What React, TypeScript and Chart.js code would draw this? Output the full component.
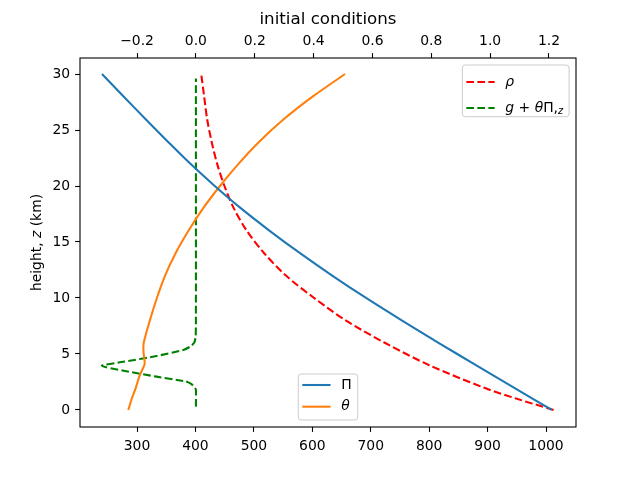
import React, { useEffect, useRef } from 'react';
import { Chart, registerables } from 'chart.js';

Chart.register(...registerables);

// profiles, heights in km
const piHeights = [0, 2, 4, 6, 8, 10, 12, 14, 16, 18, 20, 22, 24, 26, 28, 30];
const piValues = [1010, 945, 880, 816, 753, 692, 634, 579, 527, 478, 433, 391, 352, 314, 277, 240];

const thetaHeights = [0, 1, 2, 3, 3.6, 4.1, 4.6, 5.2, 6, 8, 10, 12, 14, 16, 18, 20, 22, 24, 26, 28, 30];
const thetaValues = [285, 291, 298, 304, 309, 313, 312.5, 311, 311.5, 322, 334, 348, 366, 388, 413, 442, 474, 510, 552, 601, 656];

const rhoHeights = [0, 1, 2, 4, 6, 8, 10, 12, 14, 16, 18, 20, 22, 24, 26, 28, 30];
const rhoValues = [1.216, 1.091, 0.978, 0.793, 0.642, 0.509, 0.402, 0.306, 0.232, 0.173, 0.129, 0.097, 0.072, 0.053, 0.038, 0.028, 0.018];

const buoyHeights = [0.3, 1.8, 2.0, 2.3, 2.55, 2.98, 3.5, 3.95, 4.3, 4.82, 5.36, 5.65, 6.0, 6.5, 8, 29.6];
const buoyValues = [0, 0, -0.004, -0.015, -0.035, -0.134, -0.245, -0.32, -0.247, -0.134, -0.043, -0.02, -0.006, -0.001, 0, 0];

const bottomTicks = [300, 400, 500, 600, 700, 800, 900, 1000];
const topTicks = [-0.2, 0, 0.2, 0.4, 0.6, 0.8, 1.0, 1.2];
const heightTicks = [0, 5, 10, 15, 20, 25, 30];

const FONT = 'DejaVu Sans';
const FS = 13.9;
const DASH = [7.7, 3.3];

const toPoints = (zs: number[], vs: number[]) => zs.map((z, i) => ({ x: vs[i], y: z }));

type Piece = { t: string; italic?: boolean; sub?: boolean };

const drawPieces = (ctx: CanvasRenderingContext2D, pieces: Piece[], x: number, y: number) => {
  let cx = x;
  for (const p of pieces) {
    const size = p.sub ? FS * 0.7 : FS;
    ctx.font = `${p.italic ? 'italic ' : ''}${size}px "${FONT}"`;
    ctx.fillText(p.t, cx, p.sub ? y + 3.5 : y);
    cx += ctx.measureText(p.t).width;
  }
};

const piecesWidth = (ctx: CanvasRenderingContext2D, pieces: Piece[]) => {
  let w = 0;
  for (const p of pieces) {
    const size = p.sub ? FS * 0.7 : FS;
    ctx.font = `${p.italic ? 'italic ' : ''}${size}px "${FONT}"`;
    w += ctx.measureText(p.t).width;
  }
  return w;
};

type LegendRow = { color: string; dashed: boolean; label: Piece[] };

const PAD = 4;
const HANDLE = 28.3;
const GAP = 10.7;

const legendWidth = (ctx: CanvasRenderingContext2D, rows: LegendRow[]) =>
  PAD + HANDLE + GAP + Math.max(...rows.map((r) => piecesWidth(ctx, r.label))) + 6;

const drawLegend = (
  ctx: CanvasRenderingContext2D,
  rows: LegendRow[],
  left: number,
  top: number,
  rowOffsets: number[],
  height: number
) => {
  const width = legendWidth(ctx, rows);
  ctx.save();
  ctx.beginPath();
  ctx.roundRect(left, top, width, height, 3);
  ctx.fillStyle = 'rgba(255,255,255,0.8)';
  ctx.fill();
  ctx.strokeStyle = '#cccccc';
  ctx.lineWidth = 1;
  ctx.stroke();
  rows.forEach((r, i) => {
    const y = top + rowOffsets[i];
    ctx.beginPath();
    ctx.setLineDash(r.dashed ? DASH : []);
    ctx.strokeStyle = r.color;
    ctx.lineWidth = 2.08;
    ctx.moveTo(left + PAD, y);
    ctx.lineTo(left + PAD + HANDLE, y);
    ctx.stroke();
    ctx.setLineDash([]);
    ctx.fillStyle = '#000';
    ctx.textBaseline = 'middle';
    ctx.textAlign = 'left';
    drawPieces(ctx, r.label, left + PAD + HANDLE + GAP, y);
  });
  ctx.restore();
};

const decorations = {
  id: 'decorations',
  afterDraw(chart: Chart) {
    const { ctx, chartArea } = chart;
    const { left, right, top, bottom } = chartArea;
    ctx.save();
    // frame
    ctx.strokeStyle = '#000';
    ctx.lineWidth = 1.1;
    ctx.strokeRect(left, top, right - left, bottom - top);

    // title
    ctx.fillStyle = '#000';
    ctx.textAlign = 'center';
    ctx.textBaseline = 'middle';
    ctx.font = `16.7px "${FONT}"`;
    ctx.fillText('initial conditions', (left + right) / 2, 20);

    // y label with italic z
    ctx.save();
    ctx.translate(37, (top + bottom) / 2);
    ctx.rotate(-Math.PI / 2);
    const yl: Piece[] = [{ t: 'height, ' }, { t: 'z', italic: true }, { t: ' (km)' }];
    const w = piecesWidth(ctx, yl);
    ctx.textAlign = 'left';
    drawPieces(ctx, yl, -w / 2, 0);
    ctx.restore();

    // upper-right legend
    const rowsTop: LegendRow[] = [
      { color: '#ff0000', dashed: true, label: [{ t: 'ρ', italic: true }] },
      {
        color: '#008000',
        dashed: true,
        label: [
          { t: 'g', italic: true },
          { t: ' + ' },
          { t: 'θ', italic: true },
          { t: 'Π' },
          { t: ',' },
          { t: 'z', italic: true, sub: true },
        ],
      },
    ];
    drawLegend(ctx, rowsTop, right - 6.9 - legendWidth(ctx, rowsTop), top + 7, [17, 43], 51.7);

    // lower-centre legend
    const rowsBottom: LegendRow[] = [
      { color: '#1f77b4', dashed: false, label: [{ t: 'Π' }] },
      { color: '#ff7f0e', dashed: false, label: [{ t: 'θ', italic: true }] },
    ];
    const bw = legendWidth(ctx, rowsBottom);
    drawLegend(ctx, rowsBottom, (left + right) / 2 - bw / 2, bottom - 7 - 46, [11, 32.7], 46);
    ctx.restore();
  },
};

const tickGrid = {
  display: true,
  drawOnChartArea: false,
  drawTicks: true,
  tickLength: 4.9,
  tickWidth: 1.1,
  tickColor: '#000',
};

const App: React.FC = () => {
  const canvasRef = useRef<HTMLCanvasElement>(null);

  useEffect(() => {
    if (!canvasRef.current) return;
    Chart.defaults.font.family = FONT;
    Chart.defaults.font.size = FS;
    Chart.defaults.color = '#000';

    const chart = new Chart(canvasRef.current, {
      type: 'line',
      data: {
        datasets: [
          {
            label: 'Π',
            data: toPoints(piHeights, piValues),
            xAxisID: 'x',
            yAxisID: 'y',
            borderColor: '#1f77b4',
            borderWidth: 2.08,
            pointRadius: 0,
            tension: 0.3,
          },
          {
            label: 'θ',
            data: toPoints(thetaHeights, thetaValues),
            xAxisID: 'x',
            yAxisID: 'y',
            borderColor: '#ff7f0e',
            borderWidth: 2.08,
            pointRadius: 0,
            tension: 0.3,
          },
          {
            label: 'ρ',
            data: toPoints(rhoHeights, rhoValues),
            xAxisID: 'x2',
            yAxisID: 'y',
            borderColor: '#ff0000',
            borderWidth: 2.08,
            borderDash: DASH,
            pointRadius: 0,
            tension: 0.3,
          },
          {
            label: 'g+θΠ,z',
            data: toPoints(buoyHeights, buoyValues),
            xAxisID: 'x2',
            yAxisID: 'y',
            borderColor: '#008000',
            borderWidth: 2.08,
            borderDash: DASH,
            pointRadius: 0,
            tension: 0.2,
          },
        ],
      },
      options: {
        animation: false,
        responsive: true,
        maintainAspectRatio: false,
        layout: { padding: { left: 0, right: 64, top: 0, bottom: 0 } },
        plugins: {
          legend: { display: false },
          tooltip: { enabled: false },
        },
        scales: {
          x: {
            type: 'linear',
            position: 'bottom',
            min: 202.4,
            max: 1051.3,
            border: { display: false },
            grid: tickGrid,
            afterBuildTicks: (axis) => {
              axis.ticks = bottomTicks.map((value) => ({ value }));
            },
            afterFit: (axis) => {
              axis.height = 53;
            },
            ticks: { padding: 6, maxRotation: 0, callback: (v) => String(v) },
          },
          x2: {
            type: 'linear',
            position: 'top',
            min: -0.394,
            max: 1.292,
            border: { display: false },
            grid: tickGrid,
            afterBuildTicks: (axis) => {
              axis.ticks = topTicks.map((value) => ({ value }));
            },
            afterFit: (axis) => {
              axis.height = 58;
            },
            ticks: {
              padding: 3,
              maxRotation: 0,
              callback: (v) => Number(v).toFixed(1).replace('-', '\u2212'),
            },
          },
          y: {
            type: 'linear',
            position: 'left',
            min: -1.52,
            max: 31.43,
            border: { display: false },
            grid: tickGrid,
            afterBuildTicks: (axis) => {
              axis.ticks = heightTicks.map((value) => ({ value }));
            },
            afterFit: (axis) => {
              axis.width = 80;
            },
            ticks: { padding: 5, callback: (v) => String(v) },
          },
        },
      },
      plugins: [decorations],
    });

    return () => {
      chart.destroy();
    };
  }, []);

  return (
    <div style={{ position: 'absolute', left: 0, top: 0, width: 640, height: 480, background: '#fff' }}>
      <canvas ref={canvasRef}></canvas>
    </div>
  );
};

export default App;
